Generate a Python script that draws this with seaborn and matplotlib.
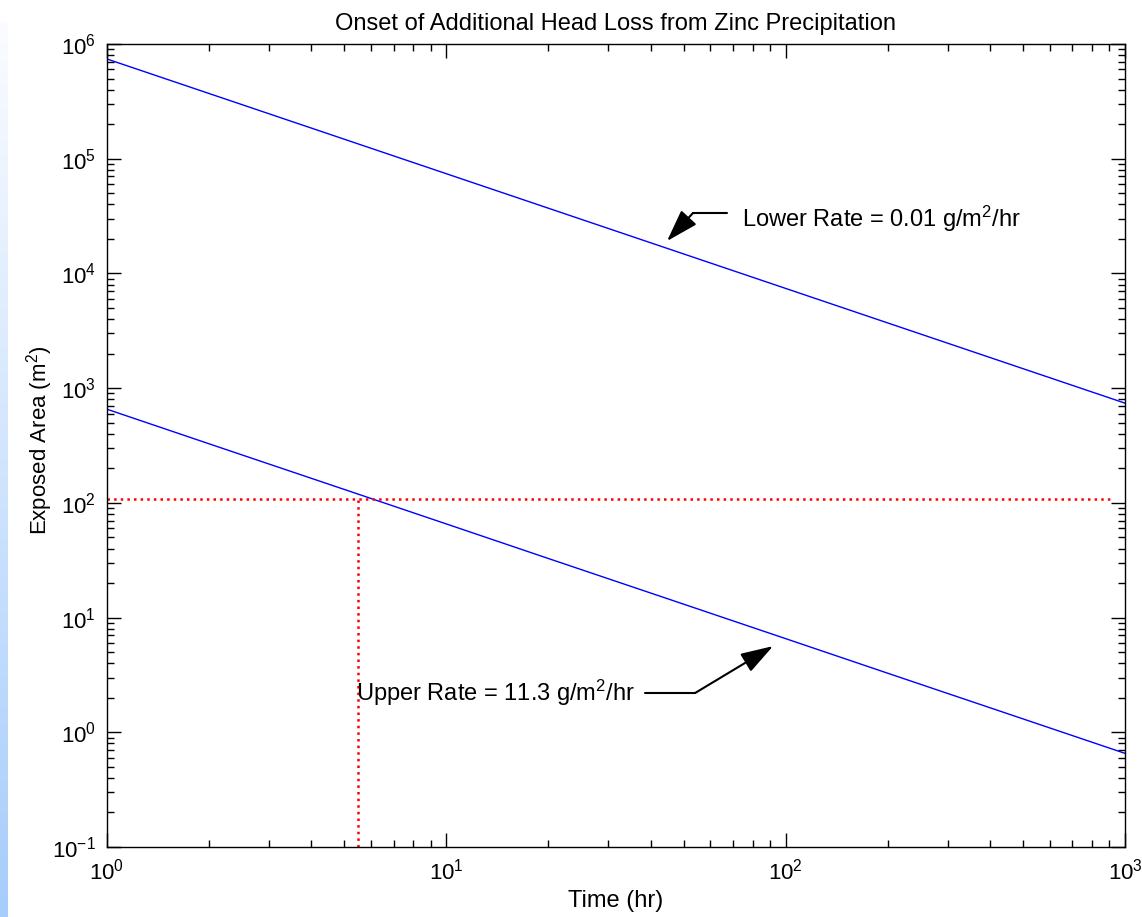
import numpy as np
import pandas as pd
import matplotlib
matplotlib.use("Agg")
import matplotlib.pyplot as plt
import seaborn as sns
from matplotlib.ticker import LogLocator, FixedLocator, NullFormatter
from matplotlib.colors import LinearSegmentedColormap

# ---- data ----
time_hr = [1, 2, 5, 10, 20, 50, 100, 200, 500, 1000]
lower_rate_area = [740000, 370000, 148000, 74000, 37000, 14800, 7400, 3700, 1480, 740]
upper_rate_area = [655, 327, 131, 65.5, 32.7, 13.1, 6.55, 3.27, 1.31, 0.655]
series_names = ["Lower Rate = 0.01", "Upper Rate = 11.3"]

threshold_area = 107          # red dotted horizontal
threshold_x_range = [1, 920]
onset_time = 5.5              # red dotted vertical
onset_y_range = [0.1, 107]

x_ticks = [1, 10, 100, 1000]
y_ticks = [0.1, 1, 10, 100, 1e3, 1e4, 1e5, 1e6]
x_tick_labels = [r"$10^{0}$", r"$10^{1}$", r"$10^{2}$", r"$10^{3}$"]
y_tick_labels = [r"$10^{-1}$", r"$10^{0}$", r"$10^{1}$", r"$10^{2}$",
                 r"$10^{3}$", r"$10^{4}$", r"$10^{5}$", r"$10^{6}$"]

df = pd.DataFrame({
    "Time": time_hr * 2,
    "Area": lower_rate_area + upper_rate_area,
    "Series": [series_names[0]] * len(time_hr) + [series_names[1]] * len(time_hr),
})

sns.set_theme(style="white")
plt.rcParams["font.family"] = ["Liberation Sans", "DejaVu Sans"]
plt.rcParams["mathtext.fontset"] = "custom"
plt.rcParams["mathtext.rm"] = "Liberation Sans"
plt.rcParams["mathtext.it"] = "Liberation Sans"
plt.rcParams["mathtext.default"] = "regular"
plt.rcParams["text.color"] = "black"
plt.rcParams["axes.labelcolor"] = "black"
plt.rcParams["xtick.color"] = "black"
plt.rcParams["ytick.color"] = "black"

fig = plt.figure(figsize=(11.42, 9.17), dpi=100)
fig.patch.set_facecolor("white")

# left gradient strip
strip = fig.add_axes([0, 0, 8 / 1142, (917 - 22) / 917])
grad = np.linspace(0, 1, 256).reshape(-1, 1)
cmap = LinearSegmentedColormap.from_list("strip", ["#a6cdfb", "#fbfcff"])
strip.imshow(grad, aspect="auto", cmap=cmap, origin="lower")
strip.set_axis_off()

ax = fig.add_axes([107 / 1142, (917 - 847) / 917, (1125 - 107) / 1142, (847 - 44) / 917])
sns.lineplot(data=df, x="Time", y="Area", hue="Series",
             palette=["#0000ff", "#0000ff"], linewidth=1.0, legend=False, ax=ax)

ax.plot(threshold_x_range, [threshold_area, threshold_area], color="red",
        linestyle=":", linewidth=1.8)
ax.plot([onset_time, onset_time], onset_y_range, color="red",
        linestyle=":", linewidth=1.8)

ax.set_xscale("log")
ax.set_yscale("log")
ax.set_xlim(1, 1000)
ax.set_ylim(0.1, 1e6)

ax.xaxis.set_major_locator(FixedLocator(x_ticks))
ax.yaxis.set_major_locator(FixedLocator(y_ticks))
ax.set_xticklabels(x_tick_labels)
ax.set_yticklabels(y_tick_labels)
ax.xaxis.set_minor_locator(LogLocator(base=10, subs=np.arange(2, 10), numticks=20))
ax.yaxis.set_minor_locator(LogLocator(base=10, subs=np.arange(2, 10), numticks=20))
ax.xaxis.set_minor_formatter(NullFormatter())
ax.yaxis.set_minor_formatter(NullFormatter())

ax.tick_params(which="both", direction="in", top=True, right=True,
               bottom=True, left=True, color="black")
ax.tick_params(which="major", length=10, width=1, labelsize=16, pad=8)
ax.tick_params(which="minor", length=5, width=1)

for s in ax.spines.values():
    s.set_color("black")
    s.set_linewidth(1.0)

ax.set_xlabel("Time (hr)", fontsize=17, labelpad=4)
ax.set_ylabel(r"Exposed Area (m$^2$)", fontsize=16)
ax.yaxis.set_label_coords(-0.051, 0.507)
ax.set_title("Onset of Additional Head Loss from Zinc Precipitation",
             fontsize=17, pad=10)

arrow_kw = dict(arrowstyle="-|>,head_length=1.0,head_width=0.32",
                color="black", lw=1.5, mutation_scale=20, shrinkA=0, shrinkB=0)

# lower-rate annotation
ax.plot([53.3, 67.2], [33600, 33600], color="black", lw=1.5)
ax.annotate("", xy=(44.7, 19150), xytext=(53.3, 33600), arrowprops=arrow_kw)
ax.text(74.5, 29800, r"Lower Rate = 0.01 g/m$^2$/hr", fontsize=17,
        ha="left", va="center")

# upper-rate annotation
ax.plot([38.5, 54.1], [2.2, 2.2], color="black", lw=1.5)
ax.annotate("", xy=(91.8, 5.64), xytext=(54.1, 2.2), arrowprops=arrow_kw)
ax.text(5.42, 2.2, r"Upper Rate = 11.3 g/m$^2$/hr", fontsize=17,
        ha="left", va="center")

fig.savefig("out.png", dpi=100, facecolor="white")
